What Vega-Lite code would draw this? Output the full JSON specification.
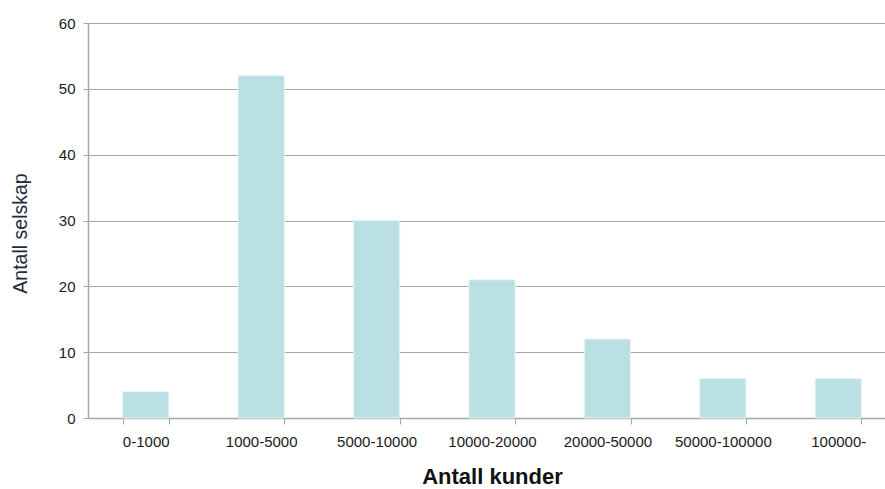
{
  "$schema": "https://vega.github.io/schema/vega-lite/v6.json",
  "autosize": {"type": "none"},
  "padding": {"left": 88, "top": 23, "right": 0, "bottom": 71},
  "width": 808,
  "height": 395,
  "background": "white",
  "config": {
    "view": {"stroke": null},
    "font": "Liberation Sans"
  },
  "data": {
    "values": [
      {"kunder": "0-1000", "selskap": 4},
      {"kunder": "1000-5000", "selskap": 52},
      {"kunder": "5000-10000", "selskap": 30},
      {"kunder": "10000-20000", "selskap": 21},
      {"kunder": "20000-50000", "selskap": 12},
      {"kunder": "50000-100000", "selskap": 6},
      {"kunder": "100000-", "selskap": 6}
    ]
  },
  "mark": {"type": "bar", "color": "#BBE0E3", "stroke": "#E4F3F4", "strokeWidth": 1},
  "encoding": {
    "x": {
      "field": "kunder",
      "type": "nominal",
      "sort": null,
      "scale": {"paddingInner": 0.6, "paddingOuter": 0.3},
      "axis": {
        "title": "Antall kunder",
        "titleFont": "Liberation Sans",
        "titleFontSize": 22,
        "titleFontWeight": "bold",
        "titleColor": "#111111",
        "titlePadding": 17,
        "labelAngle": 0,
        "labelFontSize": 15,
        "labelColor": "#1a1a1a",
        "labelPadding": 10,
        "tickBand": "extent",
        "tickSize": 6,
        "tickColor": "#A6A6A6",
        "domainColor": "#A6A6A6",
        "domainWidth": 1.5
      }
    },
    "y": {
      "field": "selskap",
      "type": "quantitative",
      "scale": {"domain": [0, 60]},
      "axis": {
        "title": "Antall selskap",
        "titleFont": "Liberation Sans",
        "titleFontSize": 19.5,
        "titleFontWeight": "normal",
        "titleColor": "#1F2B3A",
        "titlePadding": 28,
        "titleY": 210,
        "values": [0, 10, 20, 30, 40, 50, 60],
        "labelFontSize": 15,
        "labelColor": "#1a1a1a",
        "labelPadding": 8,
        "tickSize": 5,
        "tickColor": "#A6A6A6",
        "domainColor": "#A6A6A6",
        "domainWidth": 1.5,
        "grid": true,
        "gridColor": "#A6A6A6",
        "gridWidth": 1
      }
    }
  }
}
